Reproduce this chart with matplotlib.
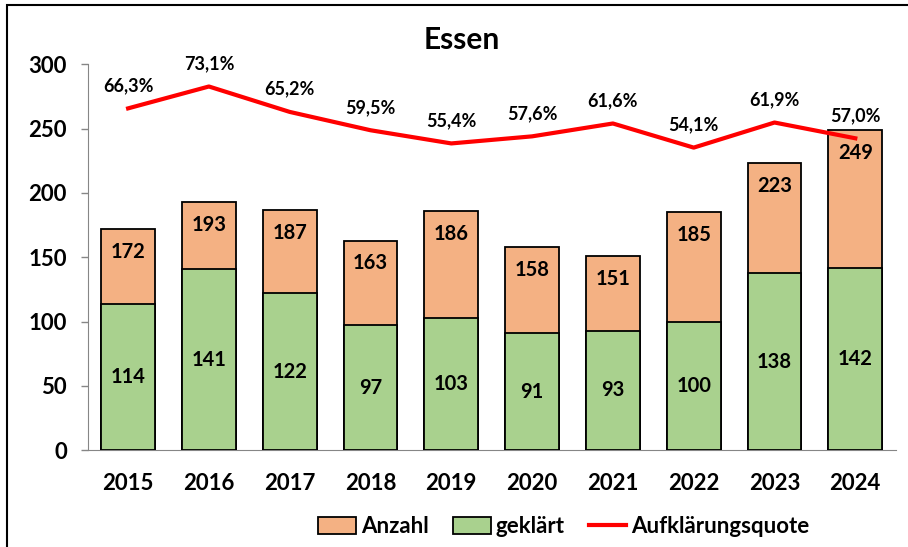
import matplotlib.pyplot as plt
from matplotlib.patches import Rectangle, Patch
from matplotlib.lines import Line2D

plt.rcParams['font.family'] = ['Lato', 'DejaVu Sans']
plt.rcParams['font.weight'] = 'bold'

# -----------------------------
# DATA
# -----------------------------
years = ["2015", "2016", "2017", "2018", "2019", "2020", "2021", "2022", "2023", "2024"]
anzahl = [172, 193, 187, 163, 186, 158, 151, 185, 223, 249]
geklaert = [114, 141, 122, 97, 103, 91, 93, 100, 138, 142]
quote = [66.3, 73.1, 65.2, 59.5, 55.4, 57.6, 61.6, 54.1, 61.9, 57.0]

C_ANZ = "#F4B183"
C_GEK = "#A9D18E"
C_LINE = "#FF0000"
GRAY = "#868686"

W, H = 908, 547
fig = plt.figure(figsize=(W / 100, H / 100), dpi=100)
ax = fig.add_axes([87.7 / W, 1 - 450.3 / H, (895.7 - 87.7) / W, (450.3 - 64.3) / H])

x = list(range(len(years)))
ax.bar(x, anzahl, width=0.664, color=C_ANZ, edgecolor="black", linewidth=1.3, zorder=2)
ax.bar(x, geklaert, width=0.664, color=C_GEK, edgecolor="black", linewidth=1.3, zorder=3)

for i in x:
    ax.annotate(str(anzahl[i]), (i, anzahl[i]), xytext=(0, -16.5), textcoords="offset points",
                ha="center", va="center", fontsize=14.5, fontweight="bold", zorder=5)
    ax.annotate(str(geklaert[i]), (i, geklaert[i] / 2), ha="center", va="center",
                fontsize=14.5, fontweight="bold", zorder=5)

ax.set_xlim(-0.5, len(years) - 0.5)
ax.set_ylim(0, 300)
ax.set_yticks([0, 50, 100, 150, 200, 250, 300])
ax.set_xticks(x)
ax.set_xticklabels(years)
ax.tick_params(axis="y", length=5, width=1, color=GRAY, pad=10, labelsize=16)
ax.tick_params(axis="x", length=0, pad=16, labelsize=16)
for lab in ax.get_xticklabels() + ax.get_yticklabels():
    lab.set_fontweight("bold")
ax.spines["top"].set_visible(False)
ax.spines["right"].set_visible(False)
ax.spines["left"].set_color(GRAY)
ax.spines["bottom"].set_color(GRAY)

# secondary (hidden) axis for the quote
ax2 = ax.twinx()
ax2.set_ylim(-40, 80)
ax2.plot(x, quote, color=C_LINE, linewidth=3, zorder=6)
for i in x:
    ax2.annotate(f"{quote[i]:.1f}%".replace(".", ","), (i, quote[i]), xytext=(0, 16.5),
                 textcoords="offset points", ha="center", va="center",
                 fontsize=13, fontweight="bold")
ax2.axis("off")

fig.text(462 / W, 1 - 40 / H, "Essen", ha="center", va="center", fontsize=21.5, fontweight="bold")

handles = [Patch(facecolor=C_ANZ, edgecolor="black", linewidth=1.3),
           Patch(facecolor=C_GEK, edgecolor="black", linewidth=1.3),
           Line2D([0], [0], color=C_LINE, linewidth=3)]
fig.legend(handles, ["Anzahl", "geklärt", "Aufklärungsquote"], loc="center",
           bbox_to_anchor=(563.7 / W, 1 - 526.7 / H), ncol=3, frameon=False,
           prop={"size": 16, "weight": "bold"}, handlelength=1.7, handleheight=0.75,
           handletextpad=0.2, columnspacing=1.1)

# outer frame
fig.patches.append(Rectangle((7 / W, -0.1), 1.2, 1 - 5 / H + 0.1, transform=fig.transFigure,
                             fill=False, edgecolor="black", linewidth=1.5))

fig.savefig("out.png", dpi=100)
